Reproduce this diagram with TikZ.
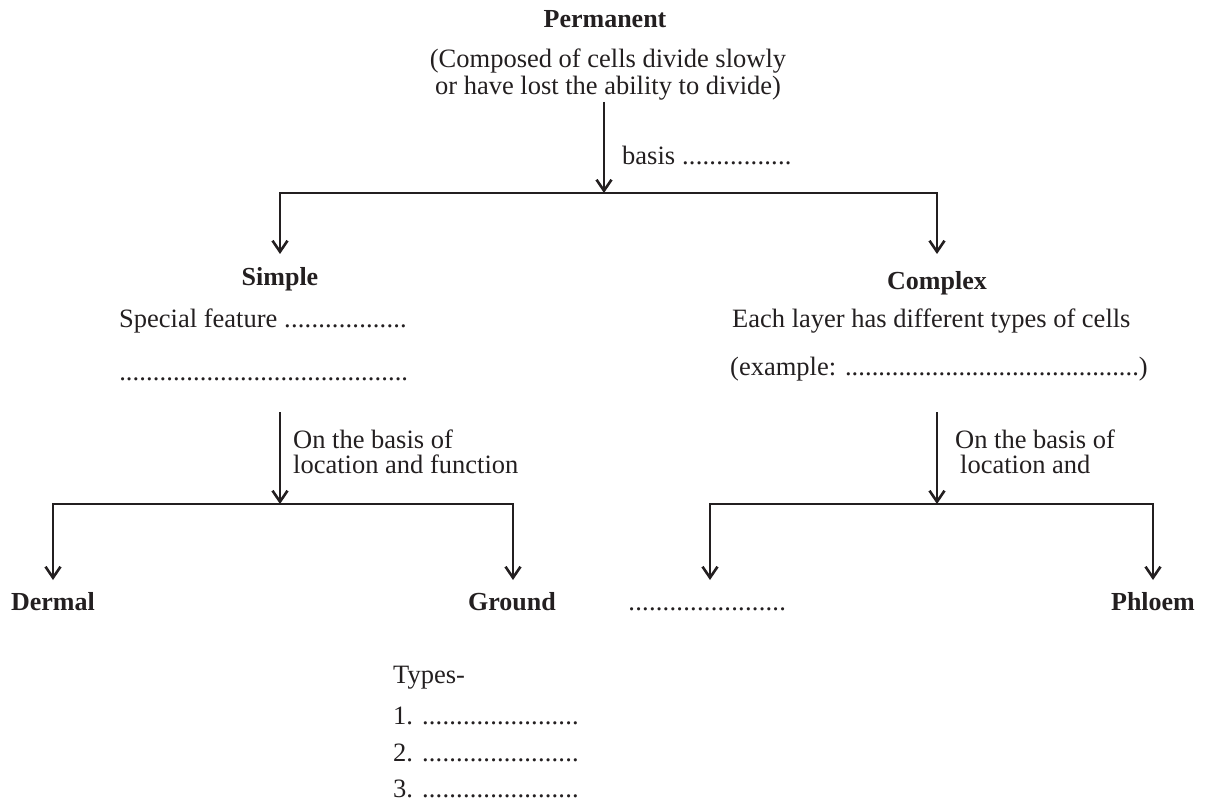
\documentclass[tikz,border=0pt]{standalone}
\usepackage{fontspec}
\setmainfont{Liberation Serif}
\usetikzlibrary{arrows.meta}
\definecolor{ink}{RGB}{35,31,32}
\newcommand\dotsw[1]{\makebox[#1pt][l]{\xleaders\hbox{.}\hfill}}
\tikzset{
  txt/.style={inner sep=0pt, font=\fontsize{26.5}{27}\selectfont, text=ink},
  bt/.style={txt, font=\fontsize{26}{27}\selectfont\bfseries},
  lnk/.style={draw=ink, line width=2.6pt},
  arr/.style={lnk, -{Straight Barb[length=11pt,width=15pt]}},
}
\begin{document}
\begin{tikzpicture}[x=1pt,y=-1pt]
\useasboundingbox (0,0) rectangle (1215,802);
% top
\node[bt, anchor=base] (perm) at (605,28) {Permanent};
\node[txt, anchor=base] (comp1) at (608,68) {(Composed of cells divide slowly};
\node[txt, anchor=base] (comp2) at (608,95) {or have lost the ability to divide)};
\node[txt, anchor=base west] (basis) at (622,165) {basis \dotsw{110}};
\coordinate (a0) at (604,102);
\coordinate (j0) at (604,193);
\coordinate (l0) at (280,193);
\coordinate (r0) at (937,193);
\coordinate (l0e) at (280,254);
\coordinate (r0e) at (937,254);
\draw[arr] (a0) -- (j0);
\draw[arr] (j0) -- (l0) -- (l0e);
\draw[arr] (j0) -- (r0) -- (r0e);
% simple
\node[bt, anchor=base] (simple) at (280,286) {Simple};
\node[txt, anchor=base west] (spec) at (119,327) {Special feature \dotsw{123}};
\node[txt, anchor=base west] (specd) at (119,380) {\dotsw{289}};
% complex
\node[bt, anchor=base] (complex) at (937,290) {Complex};
\node[txt, anchor=base west] (layer) at (732,327) {Each layer has different types of cells};
\node[txt, anchor=base west] (example) at (730,375) {(example: \dotsw{294})};
% simple branch
\coordinate (a1) at (280,412);
\coordinate (j1) at (280,504);
\coordinate (l1) at (53,504);
\coordinate (r1) at (513,504);
\coordinate (l1e) at (53,580);
\coordinate (r1e) at (513,580);
\draw[arr] (a1) -- (j1);
\draw[arr] (j1) -- (l1) -- (l1e);
\draw[arr] (j1) -- (r1) -- (r1e);
\node[txt, anchor=base west] (lab1a) at (293,448) {On the basis of};
\node[txt, anchor=base west] (lab1b) at (293,473) {location and function};
% complex branch
\coordinate (a2) at (937,412);
\coordinate (j2) at (937,504);
\coordinate (l2) at (710,504);
\coordinate (r2) at (1153,504);
\coordinate (l2e) at (710,580);
\coordinate (r2e) at (1153,580);
\draw[arr] (a2) -- (j2);
\draw[arr] (j2) -- (l2) -- (l2e);
\draw[arr] (j2) -- (r2) -- (r2e);
\node[txt, anchor=base west] (lab2a) at (955,448) {On the basis of};
\node[txt, anchor=base west] (lab2b) at (960,473) {location and};
% leaves
\node[bt, anchor=base] (dermal) at (53,610) {Dermal};
\node[bt, anchor=base] (ground) at (512,610) {Ground};
\node[txt, anchor=base west] (xylem) at (628,610) {\dotsw{158}};
\node[bt, anchor=base] (phloem) at (1153,610) {Phloem};
% types
\node[txt, anchor=base west] (types) at (393,683) {Types-};
\node[txt, anchor=base west] (t1) at (393,724) {1. \dotsw{157}};
\node[txt, anchor=base west] (t2) at (393,761) {2. \dotsw{157}};
\node[txt, anchor=base west] (t3) at (393,797) {3. \dotsw{157}};
\end{tikzpicture}
\end{document}
